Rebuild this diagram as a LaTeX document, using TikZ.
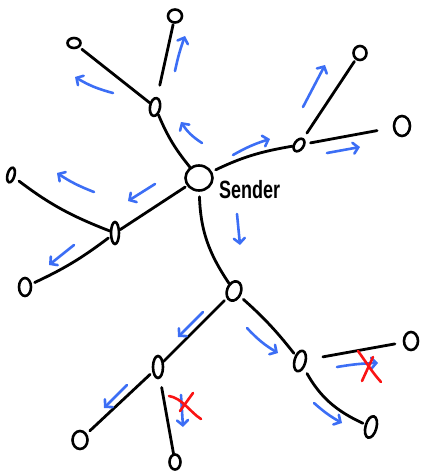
\documentclass[tikz,border=0pt]{standalone}
\usepackage{fontspec}
\setsansfont{Liberation Sans}
\usetikzlibrary{shapes.geometric,arrows.meta}
\definecolor{arrblue}{RGB}{60,110,245}
\definecolor{xred}{RGB}{250,20,20}
\tikzset{
  nd/.style={draw=black, ellipse, line width=2.6pt, inner sep=0pt},
  edge/.style={draw=black, line width=2.8pt, line cap=round},
  flow/.style={draw=arrblue, line width=2.6pt, line cap=round,
    -{Straight Barb[length=5pt,width=11pt,line cap=round]}},
  xmark/.style={draw=xred, line width=2.6pt, line cap=round},
}
\begin{document}
\begin{tikzpicture}[x=1pt,y=-1pt]
\useasboundingbox (0,0) rectangle (421,472);
% nodes
\node[nd, minimum width=27pt, minimum height=25pt] (s) at (199,178) {};
\node[nd, minimum width=10pt, minimum height=18pt, rotate=-10] (A) at (155,107) {};
\node[nd, minimum width=14pt, minimum height=13pt] (At) at (175,16) {};
\node[nd, minimum width=13pt, minimum height=10pt] (Al) at (74,43) {};
\node[nd, minimum width=8pt, minimum height=22pt] (B) at (115,233) {};
\node[nd, minimum width=7pt, minimum height=15pt, rotate=-15] (Bu) at (11,175) {};
\node[nd, minimum width=12pt, minimum height=18pt] (Bd) at (25,287) {};
\node[nd, minimum width=9pt, minimum height=14pt, rotate=-35] (C) at (299,145) {};
\node[nd, minimum width=13pt, minimum height=14pt] (Cu) at (360,53) {};
\node[nd, minimum width=16pt, minimum height=20pt] (Cr) at (402,126) {};
\node[nd, minimum width=14pt, minimum height=20pt, rotate=-20] (D) at (234,291) {};
\node[nd, minimum width=10pt, minimum height=22pt] (E) at (158,367) {};
\node[nd, minimum width=15pt, minimum height=18pt] (El) at (80,440) {};
\node[nd, minimum width=11pt, minimum height=15pt] (Eb) at (175,462) {};
\node[nd, minimum width=11pt, minimum height=21pt, rotate=-15] (F) at (300,361) {};
\node[nd, minimum width=14pt, minimum height=18pt] (Fr) at (411,341) {};
\node[nd, minimum width=11pt, minimum height=22pt, rotate=-15] (Fb) at (371,427) {};
% label
\node[anchor=west, inner sep=0pt, font=\sffamily\bfseries\fontsize{20}{20}\selectfont] (lbl) at (219,190)
  {\scalebox{0.9}[1.25]{Sender}};
% edges
\draw[edge] (s) to[bend left=8] (A);
\draw[edge, shorten <=12pt, shorten >=1pt] (A) -- (At);
\draw[edge, shorten >=3pt] (A) -- (Al);
\draw[edge, shorten <=2pt] (s) -- (B);
\draw[edge, shorten >=5pt] (B) to[bend left=8] (Bu);
\draw[edge, shorten <=2pt, shorten >=3pt] (B) to[bend left=6] (Bd);
\draw[edge, shorten <=4pt] (s) to[bend left=8] (C);
\draw[edge, shorten <=6pt, shorten >=2pt] (C) -- (Cu);
\draw[edge, shorten <=5pt, shorten >=16pt] (C) -- (Cr);
\draw[edge, shorten <=5pt] (s) to[bend right=16] (D);
\draw[edge, shorten <=3pt] (D) -- (E);
\draw[edge, shorten <=4pt, shorten >=2pt] (D) to[bend left=5] (F);
\draw[edge, shorten <=3pt, shorten >=4pt] (E) -- (El);
\draw[edge, shorten <=9pt] (E) -- (Eb);
\draw[edge, shorten <=16pt, shorten >=8pt] (F) -- (Fr);
\draw[edge, shorten <=6pt, shorten >=2pt] (F) to[bend right=18] (Fb);
% flow arrows
\coordinate (a1) at (175,71); \coordinate (a1e) at (185,36);
\coordinate (a2) at (113,93); \coordinate (a2e) at (75,77);
\coordinate (a3) at (202,143); \coordinate (a3e) at (181,122);
\coordinate (a4) at (94,192); \coordinate (a4e) at (57,173);
\coordinate (a5) at (155,184); \coordinate (a5e) at (128,201);
\coordinate (a6) at (74,245); \coordinate (a6e) at (49,265);
\coordinate (a7) at (233,155); \coordinate (a7e) at (270,139);
\coordinate (a8) at (303,107); \coordinate (a8e) at (325,65);
\coordinate (a9) at (327,153); \coordinate (a9e) at (360,147);
\coordinate (a10) at (237,214); \coordinate (a10e) at (240,245);
\coordinate (a11) at (203,312); \coordinate (a11e) at (178,337);
\coordinate (a12) at (127,385); \coordinate (a12e) at (104,408);
\coordinate (a13) at (181,395); \coordinate (a13e) at (183,427);
\coordinate (a14) at (247,328); \coordinate (a14e) at (278,353);
\coordinate (a15) at (337,367); \coordinate (a15e) at (378,363);
\coordinate (a16) at (314,403); \coordinate (a16e) at (342,423);
\draw[flow] (a1) to[bend left=4] (a1e);
\draw[flow] (a2) to[bend left=8] (a2e);
\draw[flow] (a3) to[bend left=12] (a3e);
\draw[flow] (a4) to[bend left=6] (a4e);
\draw[flow] (a5) -- (a5e);
\draw[flow] (a6) -- (a6e);
\draw[flow] (a7) to[bend left=6] (a7e);
\draw[flow] (a8) -- (a8e);
\draw[flow] (a9) -- (a9e);
\draw[flow] (a10) -- (a10e);
\draw[flow] (a11) -- (a11e);
\draw[flow] (a12) -- (a12e);
\draw[flow] (a13) -- (a13e);
\draw[flow] (a14) to[bend right=8] (a14e);
\draw[flow] (a15) to[bend left=4] (a15e);
\draw[flow] (a16) to[bend right=6] (a16e);
% red crosses
\draw[xmark] (169,396) .. controls (182,398) and (190,412) .. (201,419);
\draw[xmark] (193,393) -- (180,411);
\draw[xmark] (358,351) .. controls (366,362) and (372,372) .. (381,382);
\draw[xmark] (373,357) -- (362,381);
\end{tikzpicture}
\end{document}
